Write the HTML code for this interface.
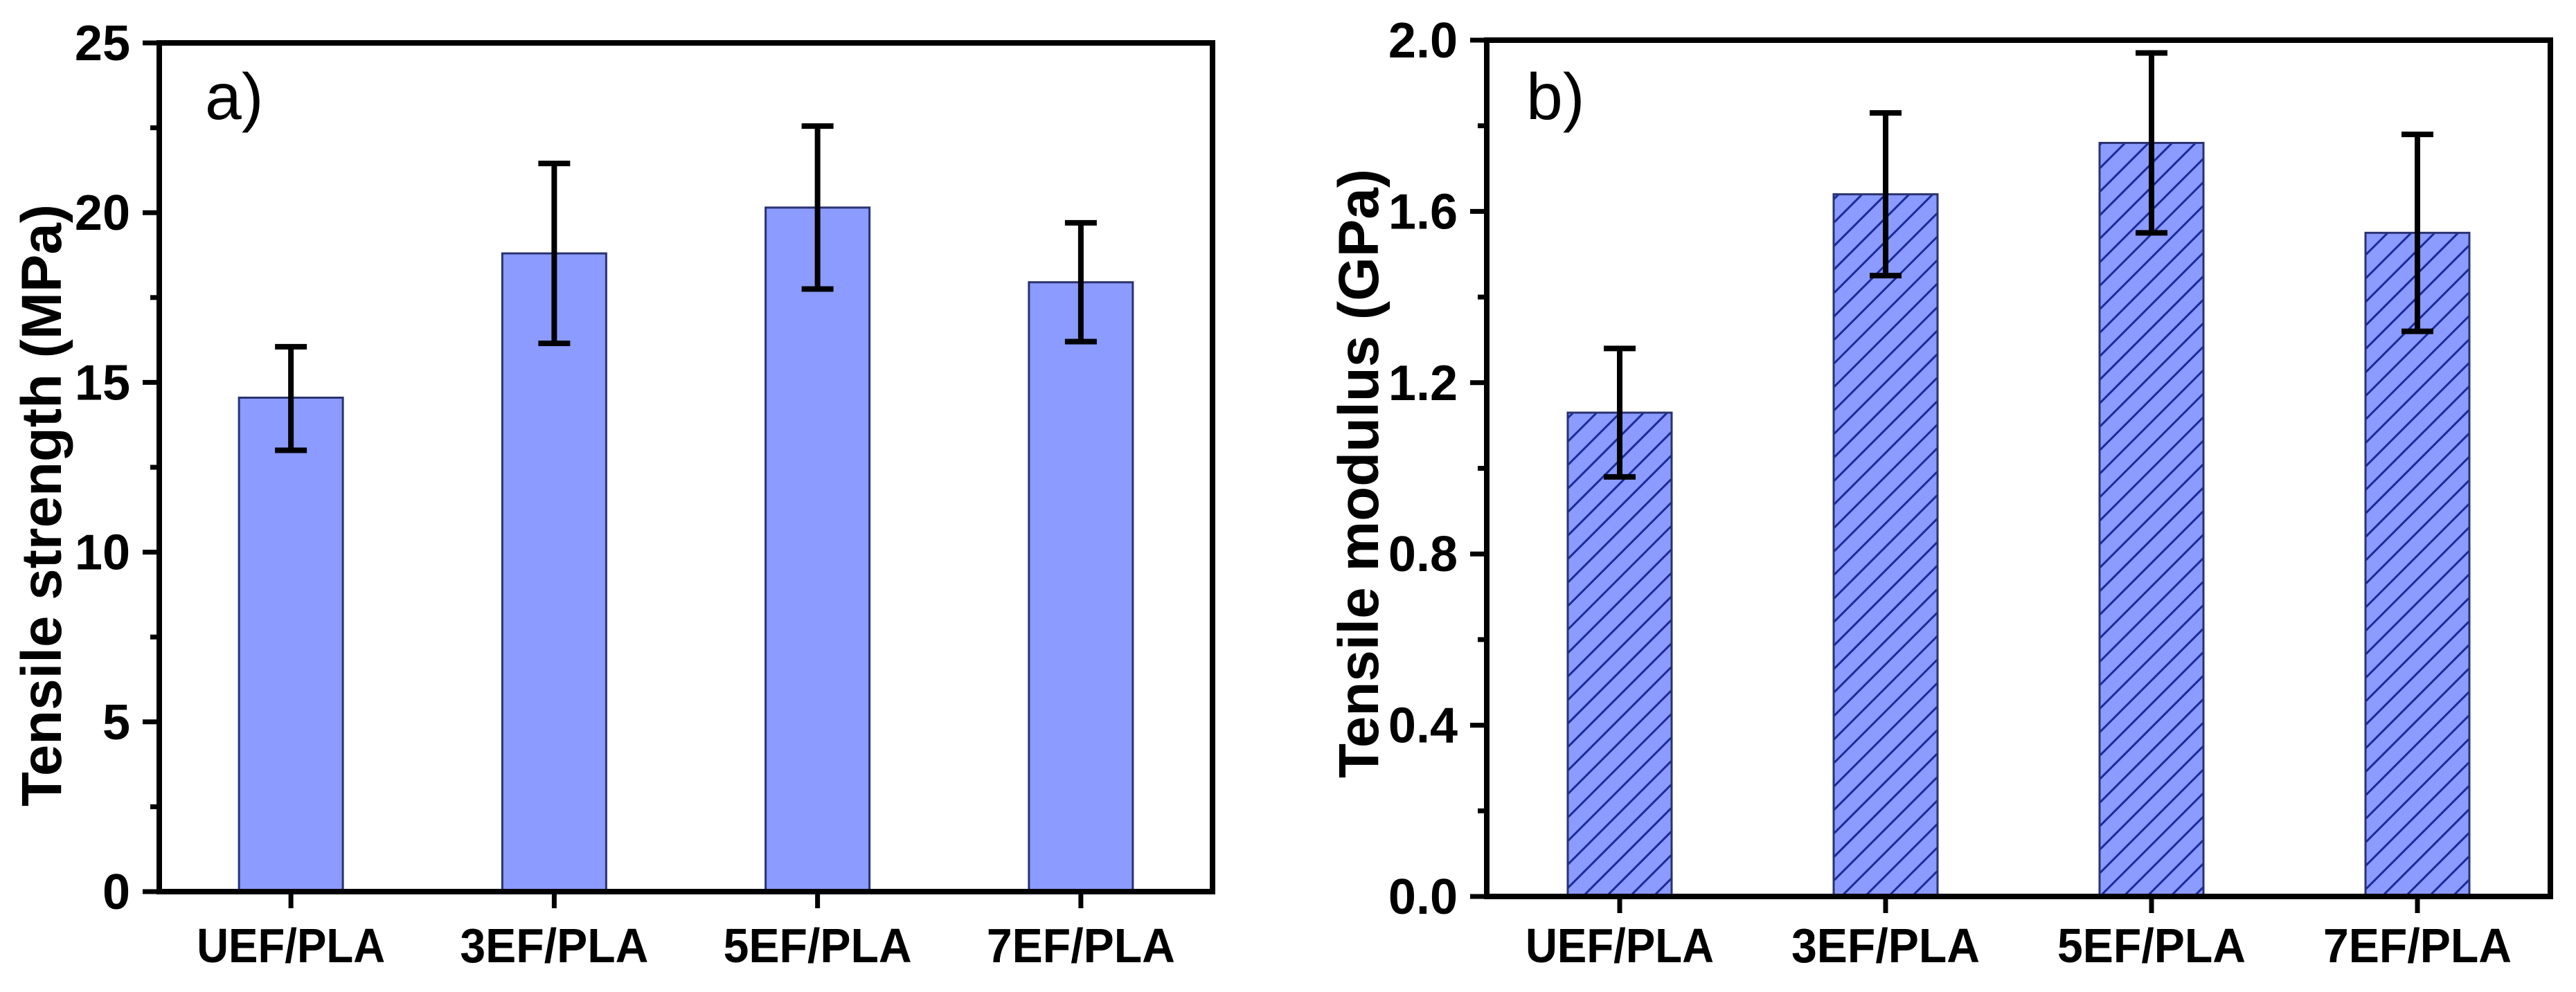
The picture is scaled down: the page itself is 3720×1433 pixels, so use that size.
<!DOCTYPE html>
<html><head><meta charset="utf-8"><style>
html,body{margin:0;padding:0;background:#fff;}
svg{display:block;}
text{font-family:"Liberation Sans",Arial,sans-serif;}
</style></head><body>
<svg id="fig" width="3720" height="1433" viewBox="0 0 3720 1433" xmlns="http://www.w3.org/2000/svg">
<defs>
<pattern id="hatch" patternUnits="userSpaceOnUse" width="24" height="24" patternTransform="rotate(45)">
<rect width="24" height="24" fill="#8b9bff"/>
<line x1="12" y1="0" x2="12" y2="24" stroke="#1b2a9c" stroke-width="3"/>
</pattern>
</defs>
</svg>
<script>
const categories = ["UEF/PLA","3EF/PLA","5EF/PLA","7EF/PLA"];
const strengthValues = [14.55, 18.8, 20.15, 17.95];
const strengthLow = [13.0, 16.15, 17.75, 16.2];
const strengthHigh = [16.05, 21.45, 22.55, 19.7];
const strengthTicks = [0, 5, 10, 15, 20, 25];
const strengthTickLabels = ["0","5","10","15","20","25"];
const modulusValues = [1.13, 1.64, 1.76, 1.55];
const modulusLow = [0.98, 1.45, 1.55, 1.32];
const modulusHigh = [1.28, 1.83, 1.97, 1.78];
const modulusTicks = [0, 0.4, 0.8, 1.2, 1.6, 2.0];
const modulusTickLabels = ["0.0","0.4","0.8","1.2","1.6","2.0"];

const NS = "http://www.w3.org/2000/svg";
const svg = document.getElementById("fig");
function mk(tag, attrs, parent, txt){
  const e = document.createElementNS(NS, tag);
  for (const k in attrs) e.setAttribute(k, attrs[k]);
  if (txt !== undefined) e.textContent = txt;
  (parent || svg).appendChild(e);
  return e;
}

function panel(cfg){
  const g = mk("g", {});
  
  
  const {x0,x1,y0,y1,ymax,minorStep} = cfg;
  const sy = v => y1 - v / ymax * (y1 - y0);
  const step = (x1 - x0) / categories.length;
  const sx = i => x0 + step * (i + 0.5);
  const bw = 150;
  categories.forEach((c, i) => {
    const r = mk("rect", {x: sx(i) - bw/2, y: sy(cfg.values[i]), width: bw, height: y1 - sy(cfg.values[i]), fill: cfg.fill, stroke: "#2a3270", "stroke-width": 3}, g);
    
    
  });
  categories.forEach((c, i) => {
    const eg = mk("g", {stroke: "#000", "stroke-width": 8}, g);
    
    
    const cx = sx(i);
    mk("line", {x1: cx, x2: cx, y1: sy(cfg.low[i]), y2: sy(cfg.high[i])}, eg);
    mk("line", {x1: cx - 23, x2: cx + 23, y1: sy(cfg.low[i]), y2: sy(cfg.low[i])}, eg);
    mk("line", {x1: cx - 23, x2: cx + 23, y1: sy(cfg.high[i]), y2: sy(cfg.high[i])}, eg);
  });
  const fr = mk("rect", {x: x0, y: y0, width: x1 - x0, height: y1 - y0, fill: "none", stroke: "#000", "stroke-width": 8}, g);
  
  
  cfg.ticks.forEach((t, k) => {
    const y = sy(t);
    const tl = mk("line", {x1: x0 - 24, x2: x0, y1: y, y2: y, stroke: "#000", "stroke-width": 7}, g);
    
    
    const lb = mk("text", {x: x0 - 42, y: y + 25, "font-size": 72, "font-weight": "bold", "text-anchor": "end"}, g, cfg.tickLabels[k]);
    
    
  });
  for (let v = minorStep; v < ymax; v += minorStep * 2) {
    const y = sy(v);
    const ml = mk("line", {x1: x0 - 13, x2: x0, y1: y, y2: y, stroke: "#000", "stroke-width": 7}, g);
    
    
  }
  categories.forEach((c, i) => {
    const xt = mk("line", {x1: sx(i), x2: sx(i), y1: y1, y2: y1 + 24, stroke: "#000", "stroke-width": 7}, g);
    
    
    const xl = mk("text", {x: sx(i), y: 1390, "font-size": 70, "font-weight": "bold", "text-anchor": "middle", textLength: 272, lengthAdjust: "spacingAndGlyphs"}, g, c);
    
    
  });
  const yt = mk("text", {x: 0, y: 0, "font-size": 82, "font-weight": "bold", "text-anchor": "middle", transform: `translate(${cfg.titleX},${cfg.titleY}) rotate(-90)`, textLength: cfg.titleLen, lengthAdjust: "spacingAndGlyphs"}, g, cfg.title);
  
  
  const pl = mk("text", {x: cfg.letterX, y: 172, "font-size": 95}, g, cfg.letter);
  
  
}

panel({name: "panel-a-tensile-strength", x0: 230, x1: 1751, y0: 62, y1: 1288, ymax: 25, minorStep: 2.5,
  values: strengthValues, low: strengthLow, high: strengthHigh, ticks: strengthTicks, tickLabels: strengthTickLabels,
  fill: "#8b9bff", title: "Tensile strength (MPa)", titleX: 88, titleY: 730, titleLen: 870, letter: "a)", letterX: 296});
panel({name: "panel-b-tensile-modulus", x0: 2147, x1: 3683, y0: 58, y1: 1295, ymax: 2.0, minorStep: 0.2,
  values: modulusValues, low: modulusLow, high: modulusHigh, ticks: modulusTicks, tickLabels: modulusTickLabels,
  fill: "url(#hatch)", title: "Tensile modulus (GPa)", titleX: 1990, titleY: 684, titleLen: 880, letter: "b)", letterX: 2204});
</script>
</body></html>
